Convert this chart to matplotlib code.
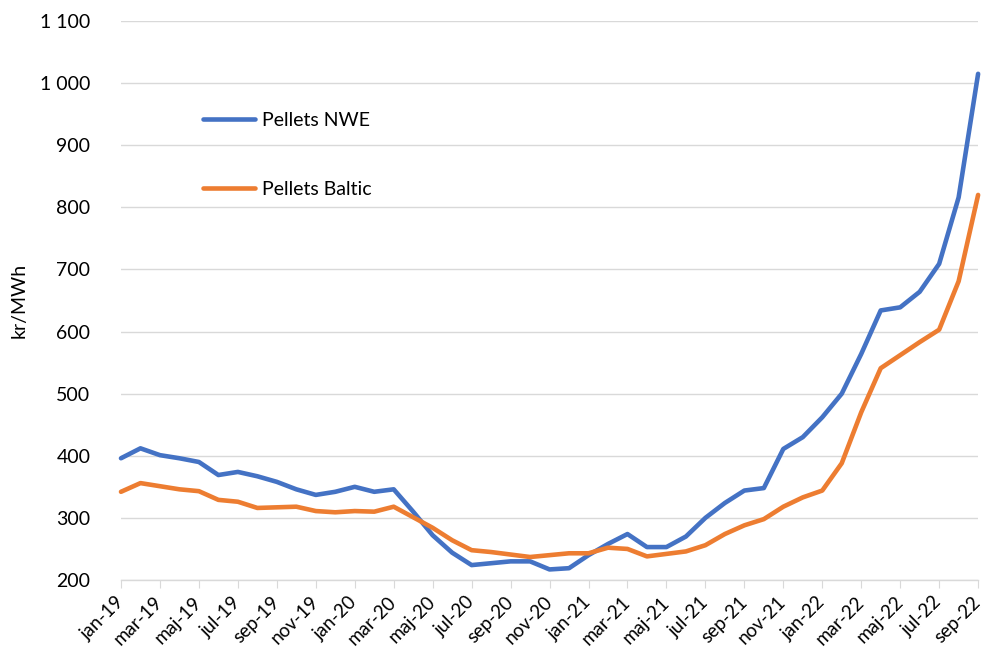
import numpy as np
import matplotlib.pyplot as plt
from matplotlib.ticker import FuncFormatter

# månader jan-19 .. sep-22
months = ["jan", "feb", "mar", "apr", "maj", "jun", "jul", "aug", "sep", "okt", "nov", "dec"]
years = ["19", "20", "21", "22"]
labels = [f"{m}-{y}" for y in years for m in months][:45]

nwe = [396, 412, 401, 396, 390, 369, 374, 367, 358, 346,
       337, 342, 350, 342, 346, 310, 272, 244, 224, 227,
       230, 230, 217, 219, 240, 258, 274, 253, 253, 270,
       300, 324, 344, 348, 411, 430, 462, 500, 564, 634,
       639, 664, 709, 816, 1015]
baltic = [342, 356, 351, 346, 343, 329, 326, 316, 317, 318,
          311, 309, 311, 310, 318, 301, 284, 264, 248, 245,
          241, 237, 240, 243, 243, 252, 250, 238, 242, 246,
          256, 274, 288, 298, 318, 333, 344, 388, 470, 541,
          562, 583, 603, 681, 820]

yticks = list(range(200, 1101, 100))

plt.rcParams['font.family'] = ['Lato', 'DejaVu Sans']

fig = plt.figure(figsize=(9.86, 6.63), dpi=100)
ax = fig.add_axes([0.1227, 0.1252, 0.992 - 0.1227, 0.9683 - 0.1252])

x = np.arange(len(labels))
ax.plot(x, nwe, color='#4472C4', lw=3.3, label='Pellets NWE', solid_capstyle='round', clip_on=False)
ax.plot(x, baltic, color='#ED7D31', lw=3.3, label='Pellets Baltic', solid_capstyle='round', clip_on=False)

ax.set_xlim(0, len(labels) - 1)
ax.set_ylim(200, 1100)
ax.set_yticks(yticks)
ax.yaxis.set_major_formatter(FuncFormatter(lambda v, p: f"{int(v):,}".replace(",", " ")))
ax.grid(axis='y', color='#d9d9d9', lw=1)
ax.set_axisbelow(True)

ax.set_xticks(x[::2])
ax.set_xticklabels(labels[::2], rotation=45, ha='right', va='center', rotation_mode='anchor')

for s in ['top', 'right', 'left']:
    ax.spines[s].set_visible(False)
ax.spines['bottom'].set_color('#d9d9d9')
ax.spines['bottom'].set_linewidth(1)
ax.tick_params(axis='y', length=0, labelsize=14, pad=22)
ax.tick_params(axis='x', length=6, color='#d9d9d9', labelsize=13.5, pad=8)

ax.set_ylabel('kr/MWh', fontsize=14, labelpad=9)

ax.legend(loc='upper left', bbox_to_anchor=(0.075, 0.868), frameon=False,
          fontsize=14, handlelength=2.7, handletextpad=0.35, labelspacing=2.65)

fig.savefig('out.png', dpi=100)
